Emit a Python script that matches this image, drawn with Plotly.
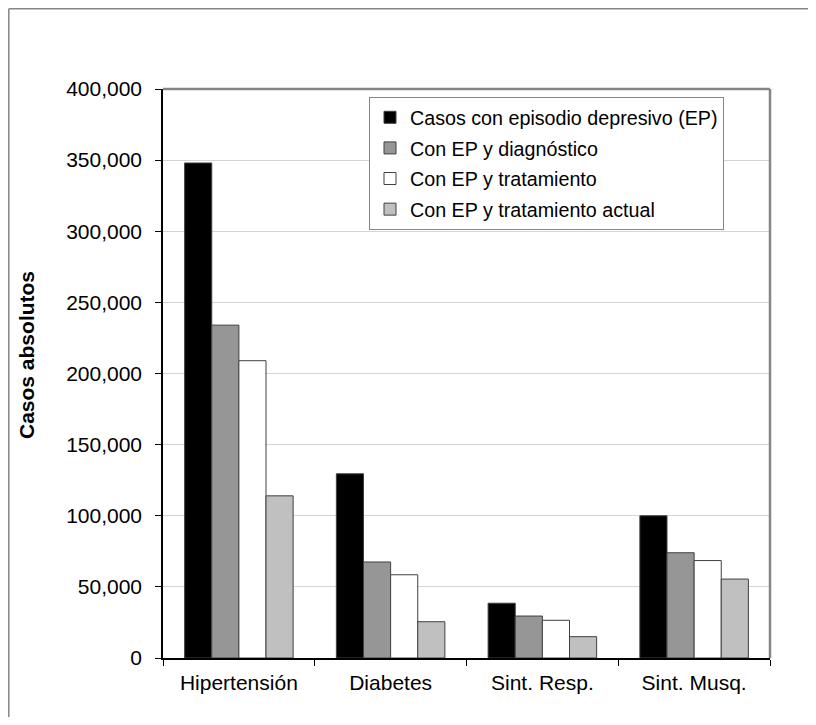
import plotly.graph_objects as go

categories = ["Hipertensión", "Diabetes", "Sint. Resp.", "Sint. Musq."]
series_names = [
    "Casos con episodio depresivo (EP)",
    "Con EP y diagnóstico",
    "Con EP y tratamiento",
    "Con EP y tratamiento actual",
]
casos_ep = [348000, 129500, 38500, 100000]
con_diagnostico = [234000, 67500, 29500, 74000]
con_tratamiento = [209000, 58500, 26500, 68500]
con_tratamiento_actual = [114000, 25500, 15000, 55500]
series_values = [casos_ep, con_diagnostico, con_tratamiento, con_tratamiento_actual]
series_colors = ["#000000", "#969696", "#ffffff", "#c0c0c0"]
y_ticks = [0, 50000, 100000, 150000, 200000, 250000, 300000, 350000, 400000]

FONT = "Liberation Sans, Arial, sans-serif"

fig = go.Figure()
for i, (name, vals, col) in enumerate(zip(series_names, series_values, series_colors)):
    fig.add_trace(go.Bar(
        x=categories, y=vals, name=name,
        marker=dict(color=col, line=dict(color="#404040", width=1)),
        legendgroup=f"g{i}",
    ))

OFF = 8  # page body margin
W, H = 808, 709
L, R, T, B = 163, 770, 89, 658  # plot area in screen pixels
pw, ph = R - L, B - T

def px(x):
    return (x - L) / pw

def py(y):
    return (B - y) / ph

fig.update_layout(
    width=W, height=H,
    margin=dict(l=L - OFF, r=W - (R - OFF), t=T - OFF, b=H - (B - OFF), pad=0),
    paper_bgcolor="white", plot_bgcolor="white",
    font=dict(family=FONT, size=21, color="black"),
    barmode="group", bargap=0.285, bargroupgap=0,
    showlegend=True,
    legend=dict(
        x=px(369), y=py(97), xanchor="left", yanchor="top",
        bgcolor="white", bordercolor="#868686", borderwidth=1,
        font=dict(family=FONT, size=19.7, color="black"),
        itemwidth=30, traceorder="grouped", tracegroupgap=2,
    ),
    xaxis=dict(
        type="category", tickson="boundaries", ticks="outside", ticklen=6,
        tickcolor="black", showline=True, linecolor="black", linewidth=1.5,
        showgrid=False, tickfont=dict(size=21), ticklabelstandoff=5,
    ),
    yaxis=dict(
        range=[0, 400000], tickvals=y_ticks, tickformat=",d",
        ticks="outside", ticklen=6, tickcolor="black",
        showline=True, linecolor="black", linewidth=1.5,
        showgrid=True, gridcolor="#d4d4d4", gridwidth=1,
        zeroline=False, tickfont=dict(size=21), ticklabelstandoff=9,
    ),
    annotations=[dict(
        text="<b>Casos absolutos</b>", xref="paper", yref="paper",
        x=px(26), y=py(355), showarrow=False, textangle=-90,
        font=dict(family=FONT, size=21, color="black"),
        xanchor="center", yanchor="middle",
    )],
    shapes=[
        dict(type="line", xref="paper", yref="paper", x0=0, x1=1, y0=1, y1=1,
             line=dict(color="#868686", width=2.5)),
        dict(type="line", xref="paper", yref="paper", x0=1, x1=1, y0=0, y1=1,
             line=dict(color="#868686", width=2.5)),
        dict(type="line", xref="paper", yref="paper", x0=px(8.8), x1=px(8.8),
             y0=py(8.8), y1=py(740), line=dict(color="#868686", width=1.5)),
        dict(type="line", xref="paper", yref="paper", x0=px(8.8), x1=px(830),
             y0=py(8.8), y1=py(8.8), line=dict(color="#868686", width=1.5)),
    ],
)

fig.write_html("out.html")
